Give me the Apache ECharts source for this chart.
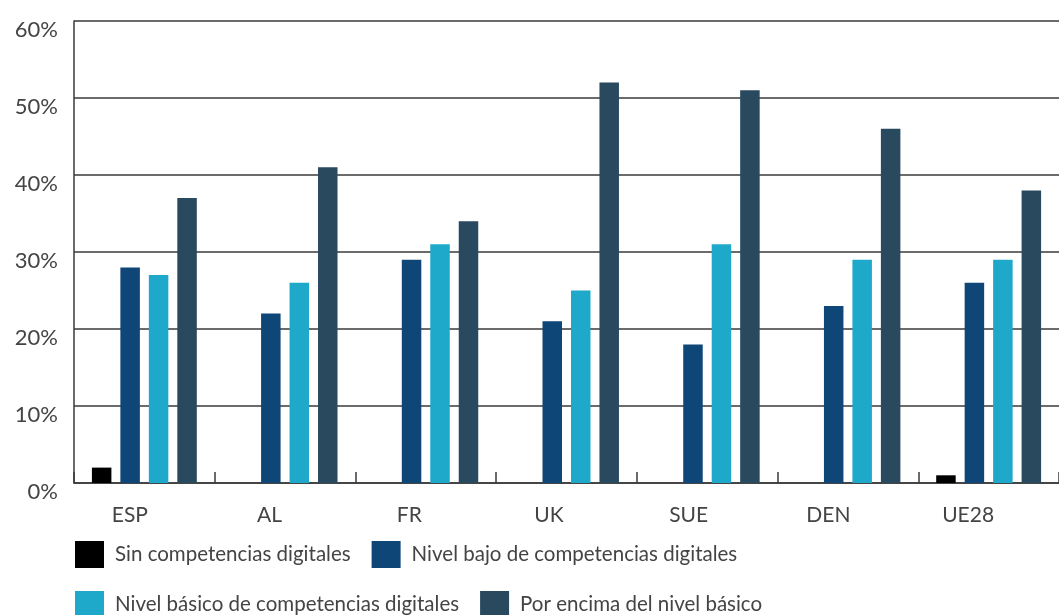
<!DOCTYPE html>
<html>
<head>
<meta charset="utf-8">
<script src="https://cdn.jsdelivr.net/npm/echarts@6/dist/echarts.min.js"></script>
<style>
  html, body { margin: 0; padding: 0; background: #ffffff; }
  #chart { width: 1059px; height: 615px; }
</style>
</head>
<body>
<div id="chart"></div>
<script>
// Countries / regions on the x axis
const categories = ['ESP', 'AL', 'FR', 'UK', 'SUE', 'DEN', 'UE28'];

// Share of population (%) by level of digital skills
const sinCompetencias = [2, 0, 0, 0, 0, 0, 1];
const nivelBajo       = [28, 22, 29, 21, 18, 23, 26];
const nivelBasico     = [27, 26, 31, 25, 31, 29, 29];
const porEncima       = [37, 41, 34, 52, 51, 46, 38];

const seriesNames = [
  'Sin competencias digitales',
  'Nivel bajo de competencias digitales',
  'Nivel básico de competencias digitales',
  'Por encima del nivel básico'
];
const seriesData = [sinCompetencias, nivelBajo, nivelBasico, porEncima];
const seriesColors = ['#000000', '#0d4677', '#1ea8ca', '#29495f'];

const FONT = 'Lato, "Noto Sans", sans-serif';
const TEXT_COLOR = '#444444';
const LINE_COLOR = '#3a3a3a';

const chart = echarts.init(document.getElementById('chart'), null, { renderer: 'canvas' });

const legendCommon = {
  orient: 'horizontal',
  left: 75,
  padding: 0,
  icon: 'rect',
  itemWidth: 29,
  itemHeight: 27,
  itemGap: 21,
  selectedMode: false,
  textStyle: { fontFamily: FONT, fontSize: 20.5, color: TEXT_COLOR, padding: [0, 0, 0, 6] }
};

chart.setOption({
  animation: false,
  backgroundColor: '#ffffff',
  legend: [
    Object.assign({}, legendCommon, { top: 541, data: seriesNames.slice(0, 2) }),
    Object.assign({}, legendCommon, { top: 591, data: seriesNames.slice(2, 4) })
  ],
  grid: [
    { left: 74, top: 21, width: 996, height: 462 },
    // second grid only carries the category labels
    { left: 60, top: 21, width: 978, height: 462 }
  ],
  xAxis: [
    {
      type: 'category',
      gridIndex: 0,
      data: categories,
      axisLine: { show: true, lineStyle: { color: LINE_COLOR, width: 1.5 } },
      axisTick: { show: true, inside: true, length: 11, lineStyle: { color: LINE_COLOR, width: 1.5 } },
      axisLabel: { show: false },
      splitLine: { show: false }
    },
    {
      type: 'category',
      gridIndex: 1,
      data: categories,
      axisLine: { show: false },
      axisTick: { show: false },
      splitLine: { show: false },
      axisLabel: {
        show: true,
        margin: 22,
        fontFamily: FONT,
        fontSize: 21,
        lineHeight: 21,
        color: TEXT_COLOR
      }
    }
  ],
  yAxis: [
    {
      type: 'value',
      gridIndex: 0,
      min: 0,
      max: 60,
      interval: 10,
      axisLine: { show: true, lineStyle: { color: LINE_COLOR, width: 1.5 } },
      axisTick: { show: false },
      splitLine: { show: true, lineStyle: { color: LINE_COLOR, width: 1.5 } },
      axisLabel: {
        formatter: '{value}%',
        margin: 16,
        fontFamily: FONT,
        fontSize: 22,
        color: TEXT_COLOR,
        verticalAlign: 'top',
        lineHeight: 18
      }
    },
    { type: 'value', gridIndex: 1, show: false, min: 0, max: 60 }
  ],
  series: seriesNames.map((name, i) => ({
    name: name,
    type: 'bar',
    xAxisIndex: 0,
    yAxisIndex: 0,
    data: seriesData[i],
    barWidth: 19.5,
    barGap: '46%',
    itemStyle: { color: seriesColors[i] }
  }))
});
</script>
</body>
</html>
